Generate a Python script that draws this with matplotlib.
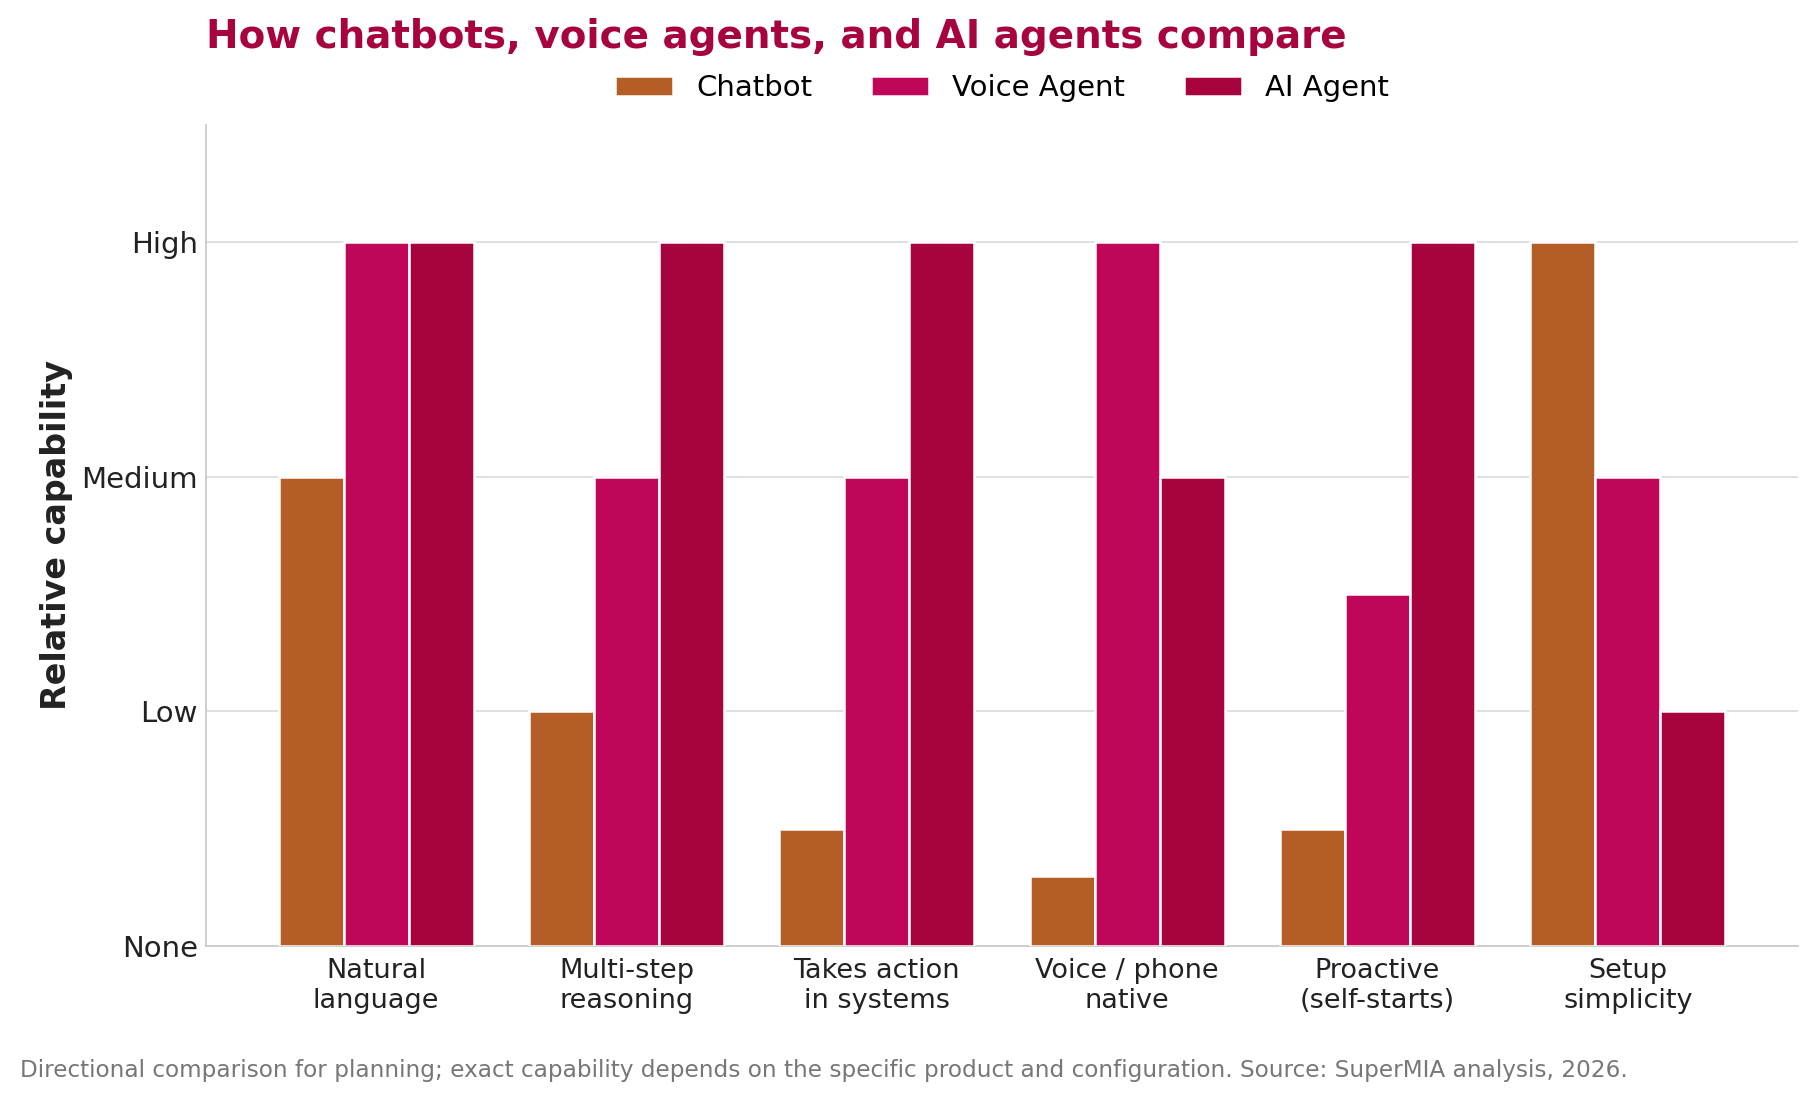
import matplotlib
matplotlib.use("Agg")
import matplotlib.pyplot as plt
import numpy as np

categories = ["Natural\nlanguage", "Multi-step\nreasoning", "Takes action\nin systems",
              "Voice / phone\nnative", "Proactive\n(self-starts)", "Setup\nsimplicity"]
series_names = ["Chatbot", "Voice Agent", "AI Agent"]
chatbot = [2, 1, 0.5, 0.3, 0.5, 3]
voice_agent = [3, 2, 2, 3, 1.5, 2]
ai_agent = [3, 3, 3, 2, 3, 1]
ytick_values = [0, 1, 2, 3]
ytick_labels = ["None", "Low", "Medium", "High"]
colors = ["#B55D26", "#BF0659", "#A6033F"]

fig = plt.figure(figsize=(18.18, 11.03), dpi=100)
ax = fig.add_axes([206/1818, 1 - 946/1103, (1798-206)/1818, (946-125)/1103])

x = np.arange(len(categories))
w = 0.26
for i, (vals, name, c) in enumerate(zip([chatbot, voice_agent, ai_agent], series_names, colors)):
    ax.bar(x + (i - 1) * w, vals, width=w, color=c, edgecolor="white", linewidth=1.8,
           label=name, zorder=3)

ax.set_xlim(-0.68, 5.68)
ax.set_ylim(0, 3.5)
ax.set_yticks(ytick_values)
ax.set_yticklabels(ytick_labels, fontsize=21, color="#222222")
ax.set_xticks(x)
ax.set_xticklabels(categories, fontsize=19.5, color="#222222", linespacing=1.15)
ax.tick_params(axis="y", length=0, pad=6)
ax.tick_params(axis="x", length=0, pad=9)
ax.grid(axis="y", color="#dddddd", linewidth=1.3, zorder=0)
ax.set_axisbelow(True)
for s in ["top", "right"]:
    ax.spines[s].set_visible(False)
for s in ["left", "bottom"]:
    ax.spines[s].set_color("#cccccc")
    ax.spines[s].set_linewidth(1.3)

ax.set_ylabel("Relative capability", fontsize=24, fontweight="bold", color="#222222", labelpad=6)

fig.text(206/1818, 1 - 37/1103, "How chatbots, voice agents, and AI agents compare",
         fontsize=28, fontweight="bold", color="#A6033F", ha="left", va="center")

ax.legend(loc="center", bbox_to_anchor=(0.5, 1 + (125 - 88) / (946 - 125)), ncol=3,
          frameon=False, fontsize=21, handlelength=2.0, columnspacing=2.0)

fig.text(20/1818, 1 - 1071/1103,
         "Directional comparison for planning; exact capability depends on the specific product and configuration. Source: SuperMIA analysis, 2026.",
         fontsize=16.7, color="#777777", ha="left", va="center")

fig.savefig("out.png", dpi=100, facecolor="white")
